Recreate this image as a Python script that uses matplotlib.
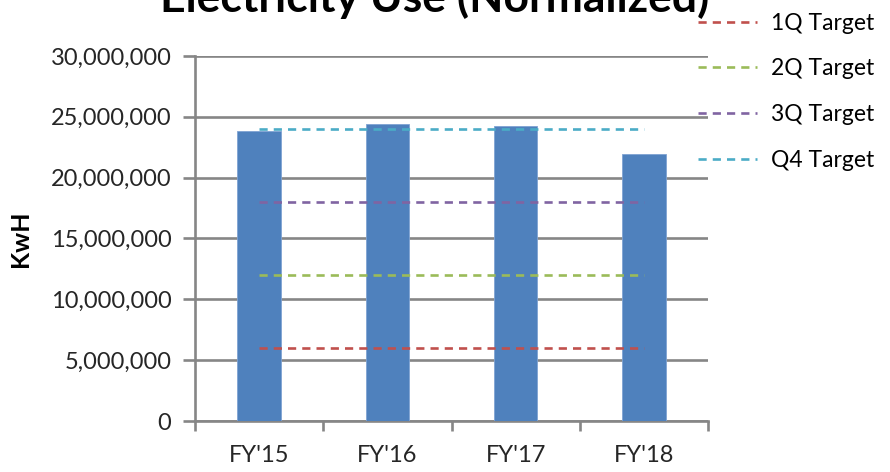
import matplotlib.pyplot as plt
from matplotlib.ticker import FuncFormatter
import numpy as np

plt.rcParams['font.family'] = ['Lato', 'DejaVu Sans']

years = ["FY'15", "FY'16", "FY'17", "FY'18"]
usage = [23850000, 24400000, 24280000, 21950000]

target_labels = ['1Q Target', '2Q Target', '3Q Target', 'Q4 Target']
target_values = [6000000, 12000000, 18000000, 24000000]
target_colors = ['#C0504D', '#9BBB59', '#8064A2', '#4BACC6']

grid_gray = '#868686'

fig = plt.figure(figsize=(8.9, 4.72), dpi=100)
ax = fig.add_axes([195 / 890, 1 - 421 / 472, (708 - 195) / 890, (421 - 56) / 472])

x = np.arange(len(years))
ax.bar(x, usage, width=0.34, color='#4F81BD', edgecolor='#7FA3D3', linewidth=0.6, zorder=3)

for lab, val, col in zip(target_labels, target_values, target_colors):
    ax.plot(x, [val] * len(x), color=col, lw=1.9, dashes=(3.1, 2.3), label=lab, zorder=4)

ax.set_xlim(-0.5, len(years) - 0.5)
ax.set_ylim(0, 30000000)
ax.set_yticks(np.arange(0, 30000001, 5000000))
ax.yaxis.set_major_formatter(FuncFormatter(lambda v, p: f'{int(v):,}'))
ax.grid(axis='y', color=grid_gray, lw=1.9, zorder=0)
ax.set_axisbelow(True)

ax.set_xticks(x)
ax.set_xticklabels(years)
ax.set_xticks(np.arange(-0.5, len(years), 1.0), minor=True)
ax.tick_params(axis='x', which='major', length=0, pad=17, labelsize=17, labelcolor='#262626')
ax.tick_params(axis='x', which='minor', length=7, width=1.9, color=grid_gray)
ax.tick_params(axis='y', length=9, width=1.9, color=grid_gray, pad=8, labelsize=17, labelcolor='#262626')

for s in ['top', 'right']:
    ax.spines[s].set_visible(False)
for s in ['left', 'bottom']:
    ax.spines[s].set_color(grid_gray)
    ax.spines[s].set_linewidth(1.9)

ax.set_ylabel('KwH', fontsize=18, fontweight='bold')
ax.yaxis.set_label_coords(-163 / 513, 0.5)

fig.text(435 / 890, 1 - 12 / 472, 'Electricity Use (Normalized)', ha='center', va='baseline',
         fontsize=32, fontweight='bold')

handles, labels = ax.get_legend_handles_labels()
fig.legend(handles, labels, loc='upper left', bbox_to_anchor=(693 / 890, 1 - 8 / 472),
           frameon=False, fontsize=16.5, handlelength=2.6, handletextpad=0.6,
           labelspacing=1.08, borderaxespad=0, borderpad=0.2)

fig.savefig('out.png', dpi=100)
